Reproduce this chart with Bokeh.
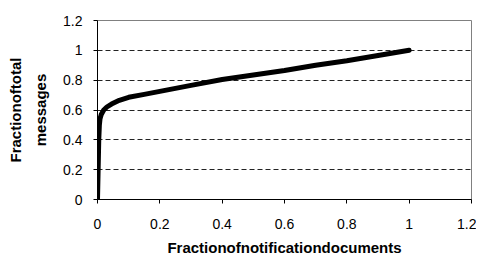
from bokeh.plotting import figure
from bokeh.models import Range1d, FixedTicker, LinearAxis
from bokeh.embed import file_html
from bokeh.resources import INLINE

# data
frac_docs = [0.0, 0.002, 0.004, 0.006, 0.008, 0.012, 0.02, 0.03, 0.045, 0.07,
             0.1, 0.15, 0.2, 0.3, 0.4, 0.5, 0.6, 0.7, 0.8, 0.9, 1.0]
frac_msgs = [0.0, 0.2, 0.4, 0.5, 0.54, 0.57, 0.6, 0.62, 0.64, 0.665,
             0.685, 0.705, 0.725, 0.765, 0.805, 0.835, 0.865, 0.9, 0.93, 0.965, 1.0]

tick_values = [0.0, 0.2, 0.4, 0.6, 0.8, 1.0, 1.2]
tick_labels = ["0", "0.2", "0.4", "0.6", "0.8", "1", "1.2"]
grid_values = [0.2, 0.4, 0.6, 0.8, 1.0]
x_title = "Fractionofnotificationdocuments"
y_title_lines = ["Fractionoftotal", "messages"]

FONT = "Liberation Sans"

p = figure(width=476, height=258, output_backend="svg", toolbar_location=None,
           x_range=Range1d(0, 1.2), y_range=Range1d(0, 1.2),
           min_border_left=97, min_border_right=5, min_border_top=20,
           min_border_bottom=59)
p.background_fill_color = "white"
p.border_fill_color = "white"
p.outline_line_color = "#808080"
p.outline_line_width = 1

p.line(frac_docs, frac_msgs, line_color="black", line_width=5,
       line_join="round", line_cap="round")

labels = dict(zip(tick_values, tick_labels))
for ax in (p.xaxis[0], p.yaxis[0]):
    ax.ticker = FixedTicker(ticks=tick_values)
    ax.major_label_overrides = labels
    ax.minor_tick_line_color = None
    ax.major_tick_in = 0
    ax.major_tick_out = 4
    ax.axis_line_color = "black"
    ax.major_tick_line_color = "black"
    ax.major_label_text_font = FONT
    ax.major_label_text_font_size = "14px"
    ax.major_label_text_color = "black"
    ax.axis_label_text_font = FONT
    ax.axis_label_text_font_size = "15px"
    ax.axis_label_text_font_style = "bold"
    ax.axis_label_text_color = "black"

p.xaxis.axis_label = x_title
p.xaxis.major_label_standoff = 15
p.xaxis.axis_label_standoff = 7

# y title: second line on the main axis, first line on an outer blank axis
p.yaxis.axis_label = y_title_lines[1]
p.yaxis.major_label_standoff = 11
p.yaxis.axis_label_standoff = 11

outer = LinearAxis(ticker=FixedTicker(ticks=[]), axis_label=y_title_lines[0],
                   axis_line_color=None, major_tick_line_color=None,
                   minor_tick_line_color=None, axis_label_standoff=6,
                   axis_label_text_font=FONT, axis_label_text_font_size="15px",
                   axis_label_text_font_style="bold",
                   axis_label_text_color="black")
p.add_layout(outer, "left")

p.xgrid.grid_line_color = None
p.ygrid.ticker = FixedTicker(ticks=grid_values)
p.ygrid.grid_line_color = "#222222"
p.ygrid.grid_line_dash = "5 3"
p.ygrid.grid_line_width = 1

open("out.html", "w").write(file_html(p, INLINE))
